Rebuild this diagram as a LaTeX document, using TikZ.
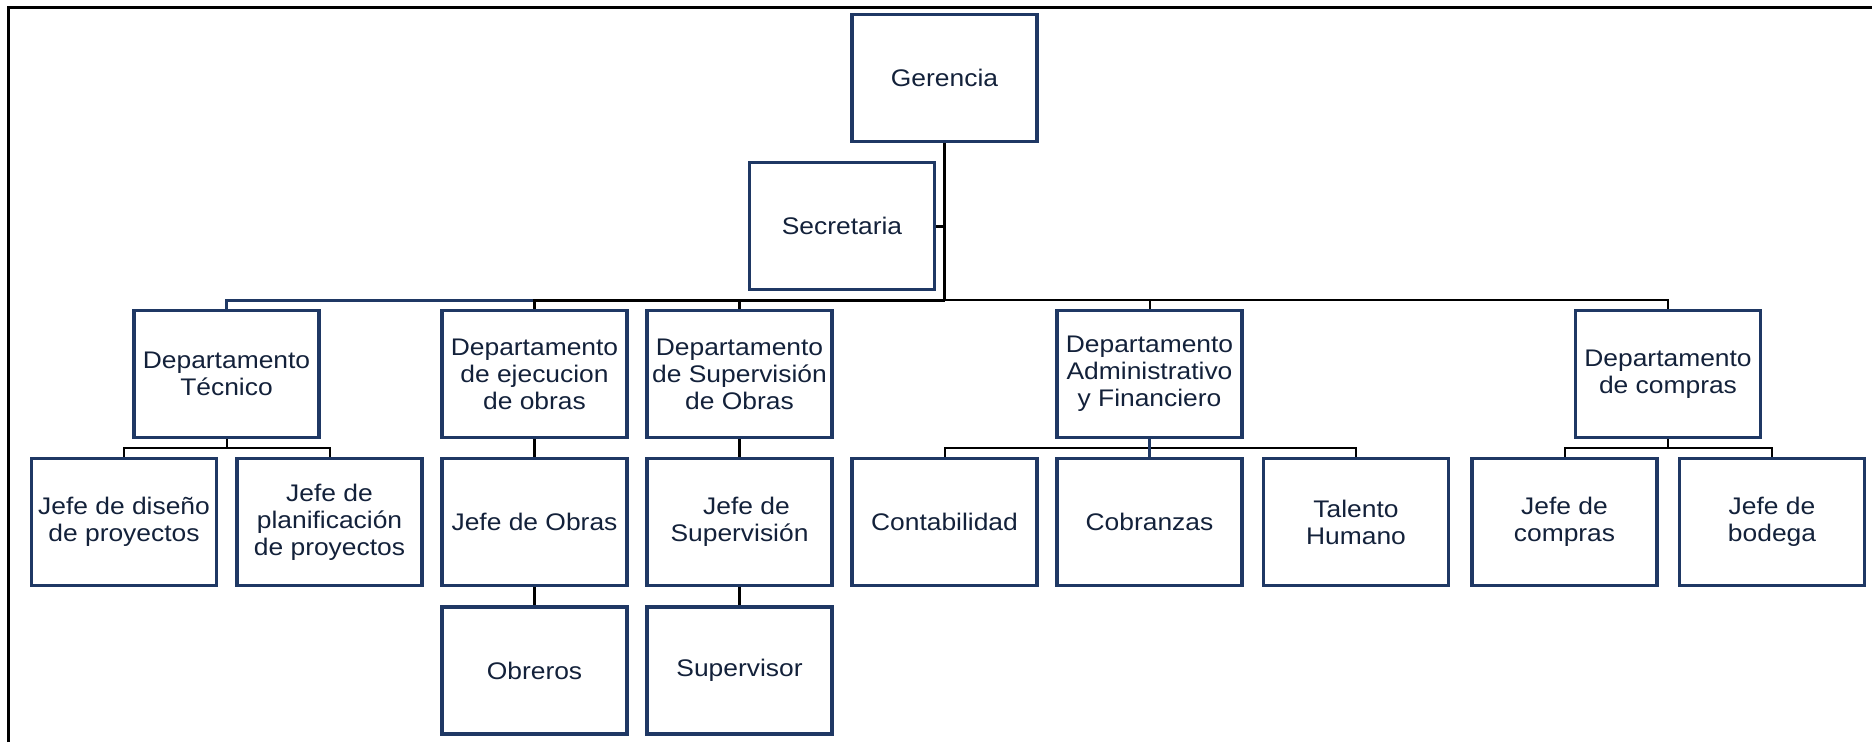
\documentclass[tikz,border=0pt]{standalone}
\usepackage{fontspec}
\setmainfont{Liberation Sans}[FakeStretch=1.1]
\definecolor{boxnavy}{HTML}{1F3864}
\definecolor{txtnavy}{HTML}{13213A}
\tikzset{
  orgbox/.style={draw=boxnavy, line width=3.2pt, rectangle, minimum width=185pt, minimum height=127pt,
    inner sep=0pt, align=center, text=txtnavy, font=\fontsize{24}{27}\selectfont},
  thickblk/.style={draw=black, line width=3pt},
  thicknavy/.style={draw=boxnavy, line width=3pt},
  thinblk/.style={draw=black, line width=2pt},
  frameline/.style={draw=black, line width=3pt}
}
\begin{document}
\begin{tikzpicture}[x=1pt, y=-1pt]
\useasboundingbox (0,0) rectangle (1872,742);
\coordinate (fbl) at (8,742);
\coordinate (ftl) at (8,7);
\coordinate (ftr) at (1872,7);
\draw[frameline] (fbl) -- (ftl) -- (ftr);

% level 0/1
\node[orgbox] (ger) at (944.5,78) {Gerencia};
\node[orgbox] (sec) at (842,226) {Secretaria};
% level 2
\node[orgbox] (tec) at (226.5,374) {Departamento\\Técnico};
\node[orgbox] (eje) at (534.5,374) {Departamento\\de ejecucion\\de obras};
\node[orgbox] (sup) at (739.5,374) {Departamento\\de Supervisión\\de Obras};
\node[orgbox] (adm) at (1149.5,374) {Departamento\\Administrativo\\y Financiero};
\node[orgbox] (com) at (1668,374) {Departamento\\de compras};
% level 3
\node[orgbox] (dis) at (124,522) {Jefe de diseño\\de proyectos};
\node[orgbox] (pla) at (329.5,522) {Jefe de\\planificación\\de proyectos};
\node[orgbox] (job) at (534.5,522) {Jefe de Obras};
\node[orgbox] (jsu) at (739.5,522) {\hspace*{14pt}Jefe de\\Supervisión};
\node[orgbox] (con) at (944.5,522) {Contabilidad};
\node[orgbox] (cob) at (1149.5,522) {Cobranzas};
\node[orgbox] (tal) at (1356,522) {Talento\\Humano};
\node[orgbox] (jco) at (1564.5,522) {Jefe de\\compras};
\node[orgbox] (bod) at (1772,522) {Jefe de\\bodega};
% level 4
\node[orgbox] (obr) at (534.5,670.5) {Obreros};
\node[orgbox] (spv) at (739.5,670.5) {Supervisor};

% trunk and bus
\coordinate (b0) at (944.5,300);
\draw[thickblk] (ger.south) -- (b0);
\draw[thickblk] (sec.east) -- (sec.east -| b0);
\draw[thicknavy] (tec.north) |- (b0);
\draw[thickblk] (eje.north) |- (b0);
\draw[thickblk] (sup.north) -- (sup.north |- b0);
\draw[thinblk] (b0) -| (adm.north);
\draw[thinblk] (b0) -| (com.north);

% Tecnico branch
\coordinate (t0) at (226.5,448);
\draw[thinblk] (tec.south) -- (t0);
\draw[thinblk] (t0) -| (dis.north);
\draw[thinblk] (t0) -| (pla.north);
% vertical chains
\draw[thickblk] (eje.south) -- (job.north);
\draw[thickblk] (job.south) -- (obr.north);
\draw[thickblk] (sup.south) -- (jsu.north);
\draw[thickblk] (jsu.south) -- (spv.north);
% Admin branch
\coordinate (a0) at (1149.5,448);
\draw[thinblk] (a0) -| (con.north);
\draw[thinblk] (a0) -| (tal.north);
\draw[thicknavy] (adm.south) -- (cob.north);
% compras branch
\coordinate (c0) at (1668,448);
\draw[thinblk] (com.south) -- (c0);
\draw[thinblk] (c0) -| (jco.north);
\draw[thinblk] (c0) -| (bod.north);
\end{tikzpicture}
\end{document}
